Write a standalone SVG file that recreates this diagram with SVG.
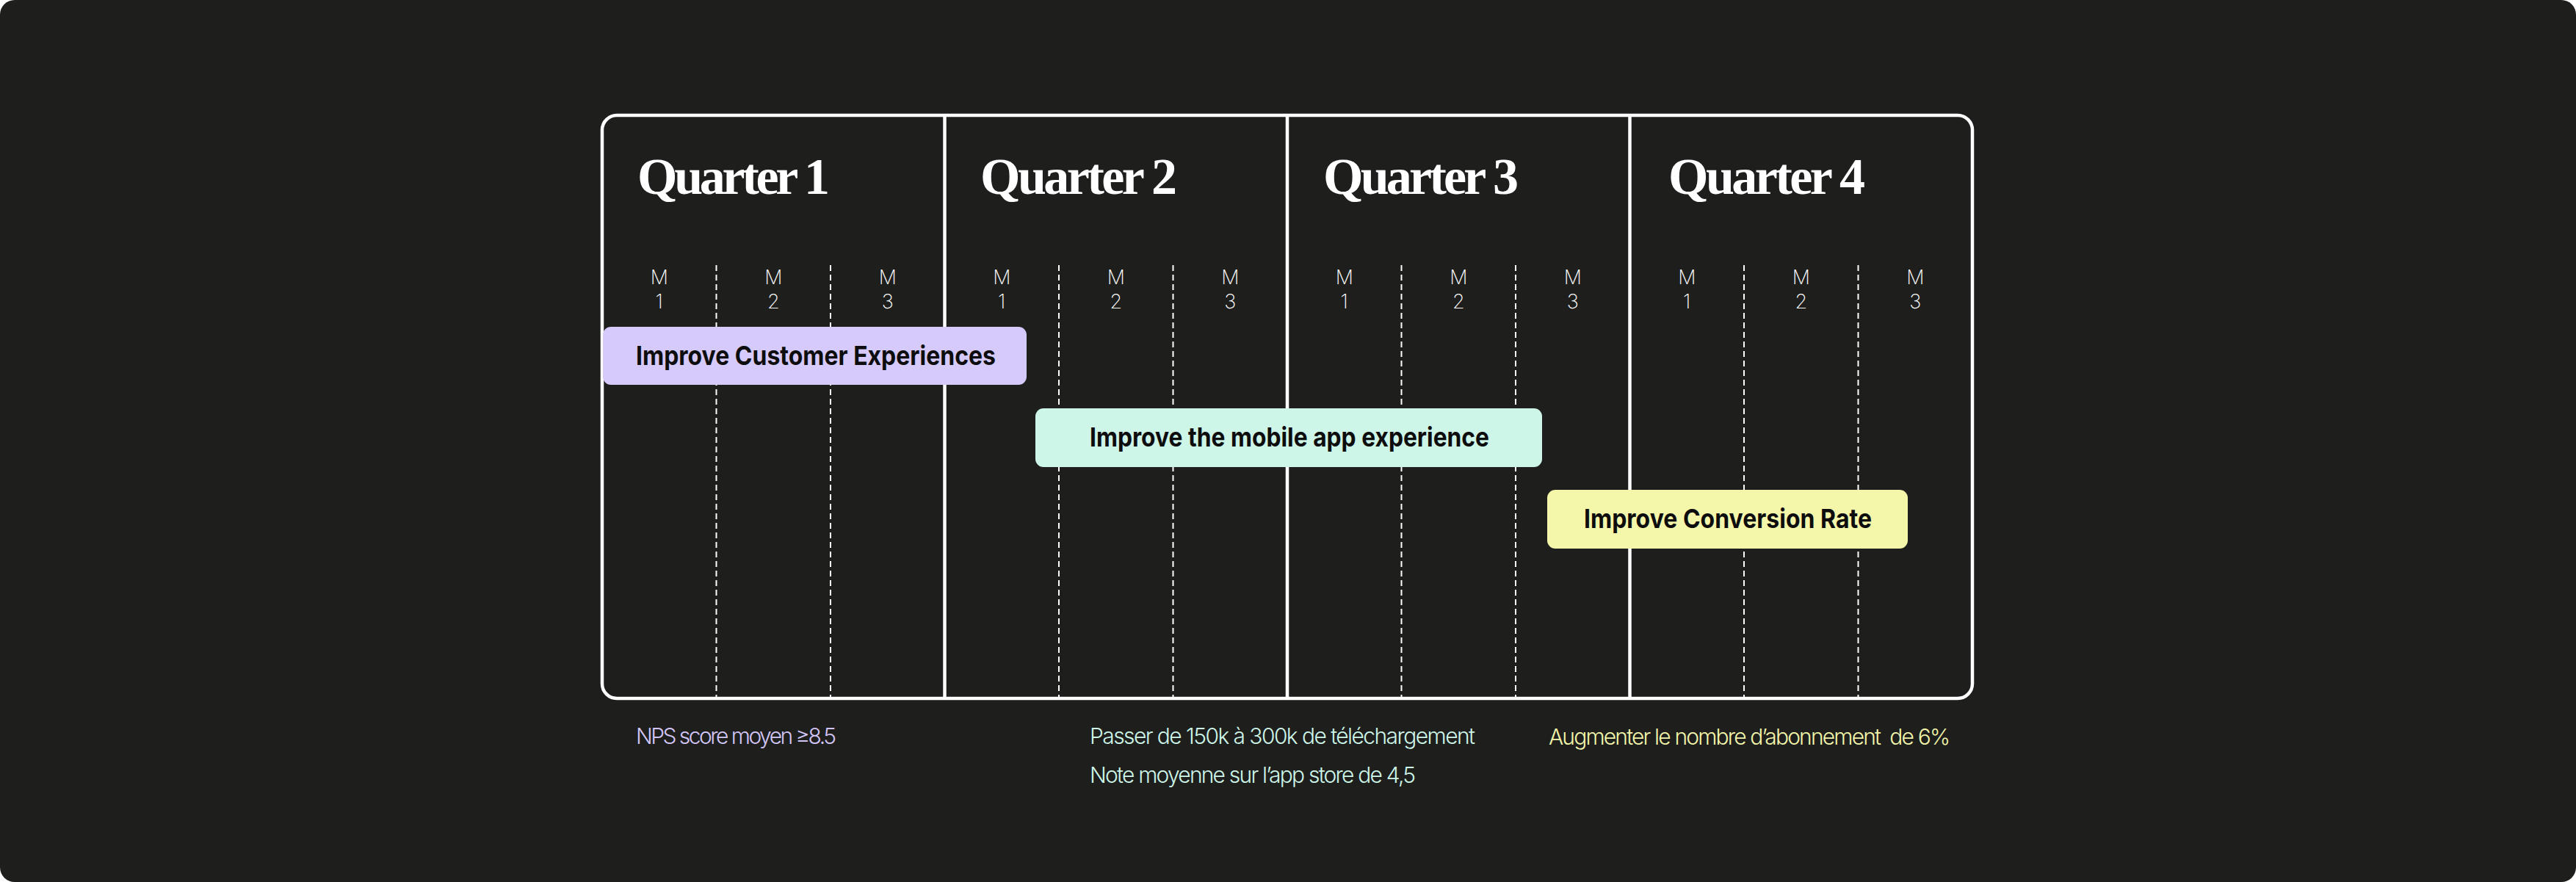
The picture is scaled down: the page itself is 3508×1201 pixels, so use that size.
<svg xmlns="http://www.w3.org/2000/svg" width="3508" height="1201" viewBox="0 0 3508 1201">
<style>
.title{font-family:"Liberation Serif","Times New Roman",serif;font-weight:700;font-size:70px;fill:#ffffff}
.m{font-family:Inter,"Liberation Sans",sans-serif;font-weight:200;font-size:27px;fill:#ffffff;text-anchor:middle}
.dash{stroke:#ffffff;stroke-width:2;stroke-dasharray:8 5;fill:none}
.solid{stroke:#ffffff;stroke-width:4.5;fill:none}
.lbl{font-family:Inter,"Liberation Sans",sans-serif;font-weight:700;font-size:36px;fill:#0d0d0d}
.note{font-family:Inter,"Liberation Sans",sans-serif;font-weight:300;font-size:30px;white-space:pre}
</style>
<rect x="0" y="0" width="3508" height="1201" fill="#ffffff"/>
<rect x="0" y="0" width="3508" height="1201" rx="20" fill="#1e1e1d"/>

<g id="grid">
<line class="dash" x1="975.5" y1="361" x2="975.5" y2="951"/>
<line class="dash" x1="1131" y1="361" x2="1131" y2="951"/>
<line class="dash" x1="1442" y1="361" x2="1442" y2="951"/>
<line class="dash" x1="1597.5" y1="361" x2="1597.5" y2="951"/>
<line class="dash" x1="1908.5" y1="361" x2="1908.5" y2="951"/>
<line class="dash" x1="2064" y1="361" x2="2064" y2="951"/>
<line class="dash" x1="2375" y1="361" x2="2375" y2="951"/>
<line class="dash" x1="2530.5" y1="361" x2="2530.5" y2="951"/>
<line class="solid" x1="1286.5" y1="157" x2="1286.5" y2="951"/>
<line class="solid" x1="1753" y1="157" x2="1753" y2="951"/>
<line class="solid" x1="2219.5" y1="157" x2="2219.5" y2="951"/>
<rect class="solid" x="820" y="157" width="1866" height="794" rx="20"/>
</g>

<g id="quarter1">
<text class="title" x="868" y="264" textLength="262" lengthAdjust="spacing">Quarter 1</text>
<text class="m" x="897.75" y="387">M</text><text class="m" x="897.75" y="420">1</text>
<text class="m" x="1053.25" y="387">M</text><text class="m" x="1053.25" y="420">2</text>
<text class="m" x="1208.75" y="387">M</text><text class="m" x="1208.75" y="420">3</text>
</g>
<g id="quarter2">
<text class="title" x="1335" y="264" textLength="268" lengthAdjust="spacing">Quarter 2</text>
<text class="m" x="1364.25" y="387">M</text><text class="m" x="1364.25" y="420">1</text>
<text class="m" x="1519.75" y="387">M</text><text class="m" x="1519.75" y="420">2</text>
<text class="m" x="1675.25" y="387">M</text><text class="m" x="1675.25" y="420">3</text>
</g>
<g id="quarter3">
<text class="title" x="1802" y="264" textLength="266" lengthAdjust="spacing">Quarter 3</text>
<text class="m" x="1830.75" y="387">M</text><text class="m" x="1830.75" y="420">1</text>
<text class="m" x="1986.25" y="387">M</text><text class="m" x="1986.25" y="420">2</text>
<text class="m" x="2141.75" y="387">M</text><text class="m" x="2141.75" y="420">3</text>
</g>
<g id="quarter4">
<text class="title" x="2272" y="264" textLength="268" lengthAdjust="spacing">Quarter 4</text>
<text class="m" x="2297.25" y="387">M</text><text class="m" x="2297.25" y="420">1</text>
<text class="m" x="2452.75" y="387">M</text><text class="m" x="2452.75" y="420">2</text>
<text class="m" x="2608.25" y="387">M</text><text class="m" x="2608.25" y="420">3</text>
</g>

<g id="goal-customer">
<rect x="821" y="445" width="577" height="79" rx="11" fill="#d6cafa"/>
<text class="lbl" x="866" y="497" textLength="490" lengthAdjust="spacingAndGlyphs">Improve Customer Experiences</text>
</g>
<g id="goal-mobile">
<rect x="1410" y="556" width="690" height="80" rx="11" fill="#cdf5e8"/>
<text class="lbl" x="1484" y="608" textLength="544" lengthAdjust="spacingAndGlyphs">Improve the mobile app experience</text>
</g>
<g id="goal-conversion">
<rect x="2107" y="667" width="491" height="80" rx="11" fill="#f4f7aa"/>
<text class="lbl" x="2157" y="719" textLength="392" lengthAdjust="spacingAndGlyphs">Improve Conversion Rate</text>
</g>

<g id="kpis">
<text class="note" x="866" y="1013" fill="#d2c6f7" textLength="273" lengthAdjust="spacing">NPS score moyen ≥8.5</text>
<text class="note" x="1484" y="1013" fill="#cdf5e8" textLength="525" lengthAdjust="spacing">Passer de 150k à 300k de téléchargement</text>
<text class="note" x="1484" y="1066" fill="#cdf5e8" textLength="444" lengthAdjust="spacing">Note moyenne sur l’app store de 4,5</text>
<text class="note" x="2109" y="1014" fill="#f3f5aa" textLength="547" lengthAdjust="spacing">Augmenter le nombre d’abonnement  de 6%</text>
</g>
</svg>
